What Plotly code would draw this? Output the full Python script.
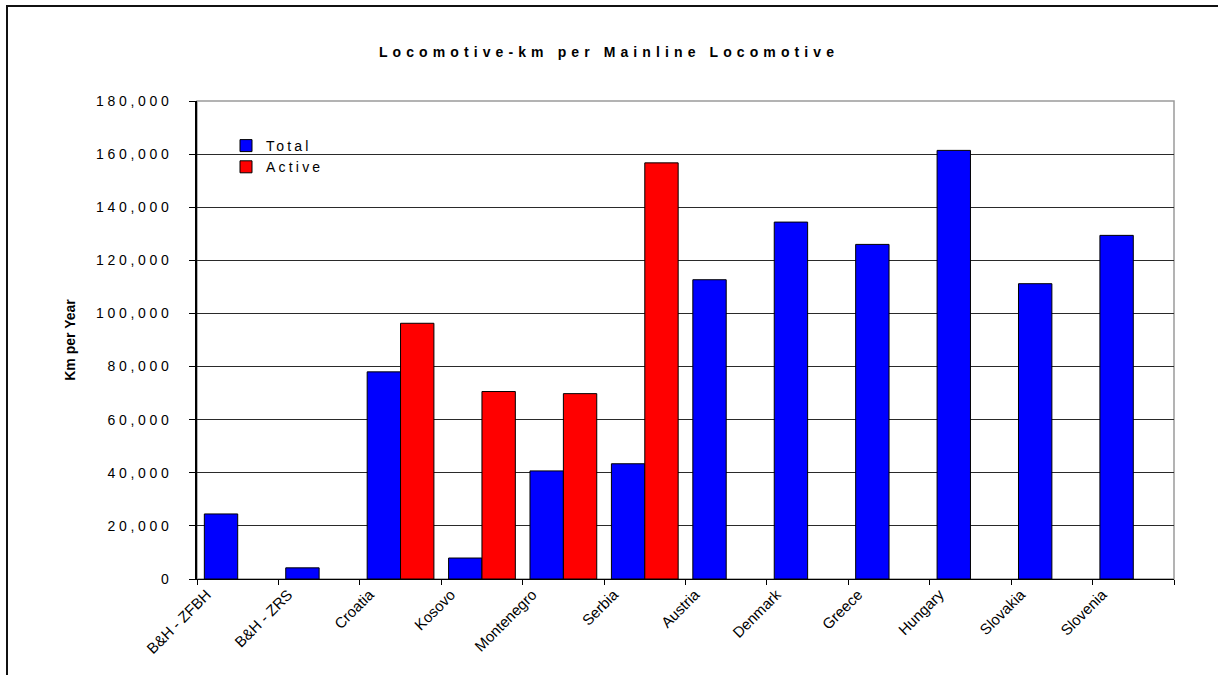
import plotly.graph_objects as go

# Locomotive-km per mainline locomotive, by railway
categories = ["B&H - ZFBH", "B&H - ZRS", "Croatia", "Kosovo", "Montenegro", "Serbia",
              "Austria", "Denmark", "Greece", "Hungary", "Slovakia", "Slovenia"]
total_km = [24500, 4200, 78000, 7900, 40700, 43400,
            112700, 134400, 126000, 161400, 111200, 129400]
active_km = [None, None, 96300, 70600, 69800, 156700,
             None, None, None, None, None, None]
y_ticks = [0, 20000, 40000, 60000, 80000, 100000, 120000, 140000, 160000, 180000]

FONT = "Liberation Sans, Arial, sans-serif"
W, H = 1218, 675
L, R, T, B = 197, 44, 101, 96
PW, PH = W - L - R, H - T - B


def px_x(p):
    return (p - L) / PW


def px_y(p):
    return 1 - (p - T) / PH


fig = go.Figure()
fig.add_trace(go.Bar(
    name="Total", x=categories, y=total_km, legendgroup="t",
    marker=dict(color="#0000FF", line=dict(color="#000000", width=1)),
))
fig.add_trace(go.Bar(
    name="Active", x=categories, y=active_km, legendgroup="a",
    marker=dict(color="#FF0000", line=dict(color="#000000", width=1)),
))

shapes = [
    # grey plot-area border (top / right)
    dict(type="rect", xref="paper", yref="paper", x0=0, x1=1, y0=0, y1=1,
         line=dict(color="#9a9a9a", width=1.5), layer="below"),
    # white gap behind the legend
    dict(type="rect", xref="paper", yref="paper",
         x0=px_x(234), x1=px_x(324), y0=px_y(182), y1=px_y(136),
         fillcolor="white", line=dict(width=0), layer="between"),
]

fig.update_layout(
    width=W, height=H,
    margin=dict(l=L, r=R, t=T, b=B, pad=0),
    paper_bgcolor="white", plot_bgcolor="white",
    font=dict(family=FONT, color="#000000", size=13),
    barmode="group", bargap=0.18, bargroupgap=0,
    title=dict(text="<b>Locomotive-km per Mainline Locomotive</b>",
               x=0.5, xref="container", xanchor="center",
               y=1 - 52 / H, yref="container", yanchor="middle",
               font=dict(family=FONT, size=14, color="#000000")),
    legend=dict(x=px_x(226), y=px_y(130), xanchor="left", yanchor="top",
                bgcolor="rgba(0,0,0,0)", borderwidth=0,
                font=dict(family=FONT, size=14, color="#000000"),
                tracegroupgap=9, traceorder="normal"),
    xaxis=dict(type="category", categoryorder="array", categoryarray=categories,
               tickangle=-45, tickson="boundaries", ticks="outside", ticklen=5,
               tickcolor="#000000", showline=True, linecolor="#000000", linewidth=1,
               showgrid=False, ticklabelshift=-31,
               tickfont=dict(family=FONT, size=15, color="#000000")),
    yaxis=dict(range=[0, 180000], tickvals=y_ticks, tickformat=",",
               ticks="outside", ticklen=6, tickcolor="#000000",
               showline=True, linecolor="#000000", linewidth=1.5,
               showgrid=True, gridcolor="#2a2a2a", gridwidth=1, zeroline=False,
               ticklabelstandoff=14,
               tickfont=dict(family=FONT, size=14, color="#000000"),
               title=dict(text="<b>Km per Year</b>", standoff=43,
                          font=dict(family=FONT, size=14, color="#000000"))),
    shapes=shapes,
    showlegend=True,
)

# page without scrollbars, the chart frame's top/left edges, and wide
# letter spacing for the title, value labels and legend entries
post_js = """
document.documentElement.style.overflow = 'hidden';
document.body.style.margin = '0';
document.body.style.overflow = 'hidden';
var gd = document.getElementById('{plot_id}');
var frame = document.createElement('div');
frame.style.cssText = 'position:fixed;left:6px;top:5px;width:3000px;height:3000px;' +
  'border-top:2.5px solid #111;border-left:2.5px solid #111;pointer-events:none;';
document.body.appendChild(frame);
function spaceText() {
  var rules = [['.gtitle', 5.1], ['.ytick text', 3.7], ['.legendtext', 3.2]];
  rules.forEach(function (r) {
    gd.querySelectorAll(r[0]).forEach(function (t) {
      t.style.letterSpacing = r[1] + 'px';
    });
  });
  gd.querySelectorAll('.legend .scrollbox').forEach(function (g) {
    g.removeAttribute('clip-path');
  });
}
spaceText();
gd.on('plotly_afterplot', spaceText);
"""

fig.write_html("out.html", post_script=post_js)
